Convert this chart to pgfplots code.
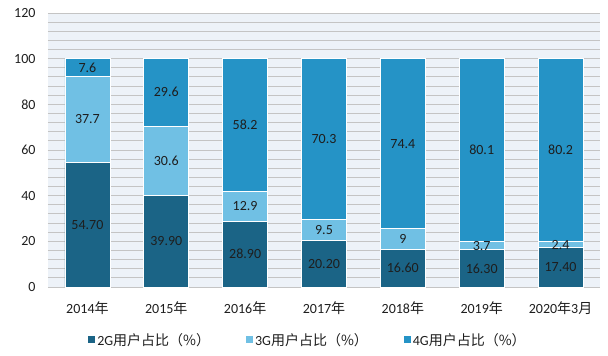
\documentclass[border=0pt]{standalone}
\usepackage{pgfplots}
\pgfplotsset{compat=1.18}
\usepackage{fontspec}
\setmainfont{Carlito}
\newfontfamily\cjk{Noto Sans CJK SC}
\definecolor{c2g}{HTML}{1B6486}
\definecolor{c3g}{HTML}{70C0E4}
\definecolor{c4g}{HTML}{2593C6}
\definecolor{bgc}{HTML}{EDF2F8}
\definecolor{gridc}{HTML}{C4C4C4}
\definecolor{txt}{HTML}{1E1E1E}
\begin{document}
\begin{tikzpicture}
\useasboundingbox (-48bp,-69bp) rectangle (560bp,287bp);
\begin{axis}[
  at={(0,0)}, anchor=south west,
  scale only axis, width=552bp, height=274bp,
  ybar stacked, bar width=0.57,
  xmin=-0.5, xmax=6.5, ymin=0, ymax=120,
  xtick={0,...,6},
  xticklabels={2014{\cjk 年},2015{\cjk 年},2016{\cjk 年},2017{\cjk 年},2018{\cjk 年},2019{\cjk 年},2020{\cjk 年}3{\cjk 月}},
  ytick={0,20,...,120},
  minor ytick={4,8,...,116},
  ymajorgrids, yminorgrids,
  major grid style={draw=gridc, line width=0.9bp},
  minor grid style={draw=gridc, line width=0.9bp},
  axis line style={draw=none},
  major tick style={draw=none}, minor tick style={draw=none},
  axis background/.style={fill=bgc},
  /pgf/number format/assume math mode=true,
  tick label style={font=\fontsize{14bp}{16bp}\selectfont, text=txt},
  xticklabel style={yshift=-11bp},
  yticklabel style={xshift=-9bp},
  point meta=explicit symbolic,
  nodes near coords,
  every node near coord/.append style={anchor=center, font=\fontsize{14bp}{16bp}\selectfont, text=txt},
  legend style={at={(0.471,-0.193)}, anchor=center, draw=none, fill=none,
    legend columns=3, font=\fontsize{14bp}{16bp}\selectfont, text=txt,
    /tikz/every even column/.append style={column sep=34bp}},
  legend image code/.code={\fill[#1,draw=none] (0bp,-3.5bp) rectangle (7bp,3.5bp);},
]
\addplot[fill=c2g, draw=white, line width=0.8bp] coordinates {
 (0,54.7) [54.70] (1,39.9) [39.90] (2,28.9) [28.90] (3,20.2) [20.20]
 (4,16.6) [16.60] (5,16.3) [16.30] (6,17.4) [17.40]};
\addplot[fill=c3g, draw=white, line width=0.8bp] coordinates {
 (0,37.7) [37.7] (1,30.6) [30.6] (2,12.9) [12.9] (3,9.5) [9.5]
 (4,9) [9] (5,3.7) [3.7] (6,2.4) [2.4]};
\addplot[fill=c4g, draw=white, line width=0.8bp] coordinates {
 (0,7.6) [7.6] (1,29.6) [29.6] (2,58.2) [58.2] (3,70.3) [70.3]
 (4,74.4) [74.4] (5,80.1) [80.1] (6,80.2) [80.2]};
\legend{2G{\cjk 用户占比（\%）},3G{\cjk 用户占比（\%）},4G{\cjk 用户占比（\%）}}
\end{axis}
\end{tikzpicture}
\end{document}
